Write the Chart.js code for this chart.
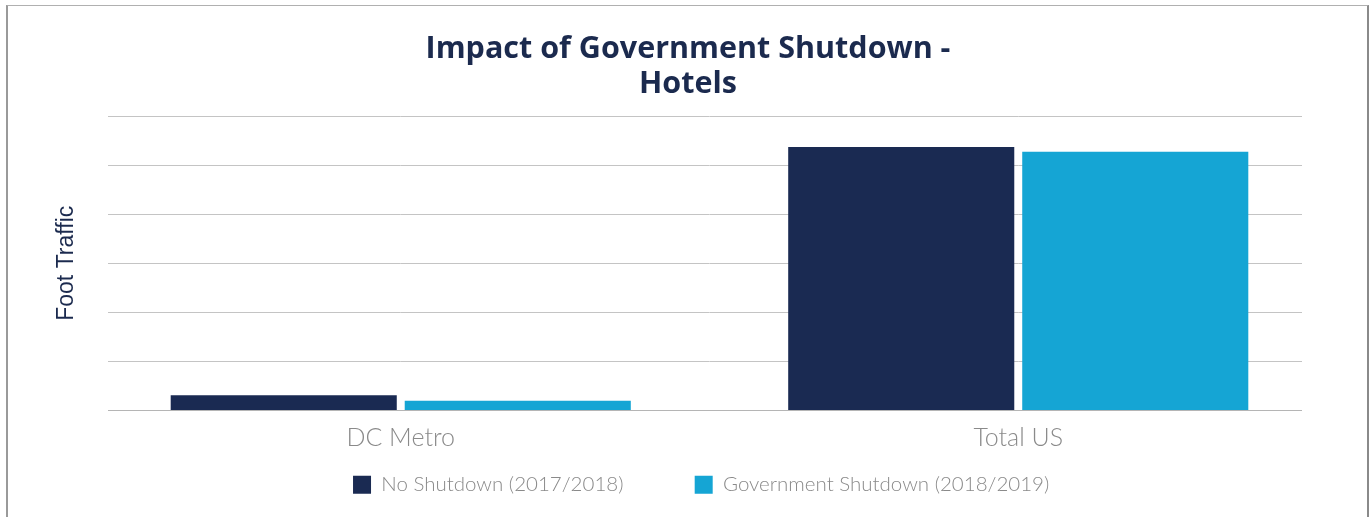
<!DOCTYPE html>
<html>
<head>
<meta charset="utf-8">
<script src="https://cdn.jsdelivr.net/npm/chart.js@4/dist/chart.umd.min.js"></script>
<style>
  html, body { margin: 0; padding: 0; background: #fff; overflow: hidden; }
  #wrap { position: relative; width: 1369px; height: 517px; }
  #frame { position: absolute; left: 6px; top: 5px; width: 1359px; height: 530px;
           border-left: 2px solid #9a9a9a; border-top: 1px solid #b0b0b0; border-right: 2px solid #8a8a8a; }
  canvas { position: absolute; left: 0; top: 0; }
</style>
</head>
<body>
<div id="wrap">
  <div id="frame"></div>
  <canvas id="c" width="1369" height="517"></canvas>
</div>
<script>
const categories = ["DC Metro", "Total US"];
const seriesNames = ["No Shutdown (2017/2018)", "Government Shutdown (2018/2019)"];
const noShutdown = [0.31, 5.37];
const govShutdown = [0.20, 5.27];
const titleLines = ["Impact of Government Shutdown -", "Hotels"];
const yTitle = "Foot Traffic";

const gridMask = {
  id: 'gridMask',
  beforeDatasetsDraw(chart) {
    const a = chart.chartArea, ctx = chart.ctx;
    ctx.save();
    ctx.fillStyle = '#fff';
    ctx.fillRect(a.left - 2, a.top - 3, 108 - (a.left - 2), a.bottom - a.top + 6);
    ctx.fillRect(1302, a.top - 3, a.right + 2 - 1302, a.bottom - a.top + 6);
    ctx.restore();
  }
};

const legendGap = '\u00A0'.repeat(11);
const legendTail = '\u00A0'.repeat(3);

new Chart(document.getElementById('c'), {
  type: 'bar',
  data: {
    labels: categories,
    datasets: [
      { label: seriesNames[0], data: noShutdown, backgroundColor: '#1a2a52', borderWidth: 0 },
      { label: seriesNames[1], data: govShutdown, backgroundColor: '#15a5d4', borderWidth: 0 }
    ]
  },
  options: {
    responsive: false,
    animation: false,
    categoryPercentage: 0.758,
    barPercentage: 0.966,
    layout: { padding: { left: 49, right: 42, top: 12, bottom: 12 } },
    plugins: {
      title: {
        display: true,
        text: titleLines,
        color: '#1b2a4e',
        font: { family: 'Open Sans', size: 30.5, weight: 'bold', lineHeight: 1.148 },
        padding: { top: 20, bottom: 14 }
      },
      legend: {
        position: 'bottom',
        fullSize: false,
        labels: {
          boxWidth: 18, boxHeight: 18, padding: 10,
          color: '#8a8a8a',
          font: { family: 'Lato', size: 20.5, weight: 300 },
          generateLabels(chart) {
            const items = Chart.defaults.plugins.legend.labels.generateLabels(chart);
            items.forEach((it, i) => { it.text = it.text + (i < items.length - 1 ? legendGap : legendTail); });
            return items;
          }
        }
      },
      tooltip: { enabled: false }
    },
    scales: {
      x: {
        grid: { display: false, drawTicks: false },
        border: { display: true, color: '#b5b5b5', width: 1 },
        ticks: { color: '#8a8a8a', padding: 12, font: { family: 'Lato', size: 25, weight: 300 } }
      },
      y: {
        min: 0, max: 6,
        ticks: { display: false, stepSize: 1 },
        grid: { color: '#c4c4c4', lineWidth: 1, drawTicks: false },
        border: { display: false },
        title: { display: true, text: yTitle, color: '#1b2a4e',
                 font: { family: 'Liberation Sans', size: 23 }, padding: { top: 4, bottom: 4 } },
        afterFit(s) { s.width = 43; }
      }
    }
  },
  plugins: [gridMask]
});
</script>
</body>
</html>
